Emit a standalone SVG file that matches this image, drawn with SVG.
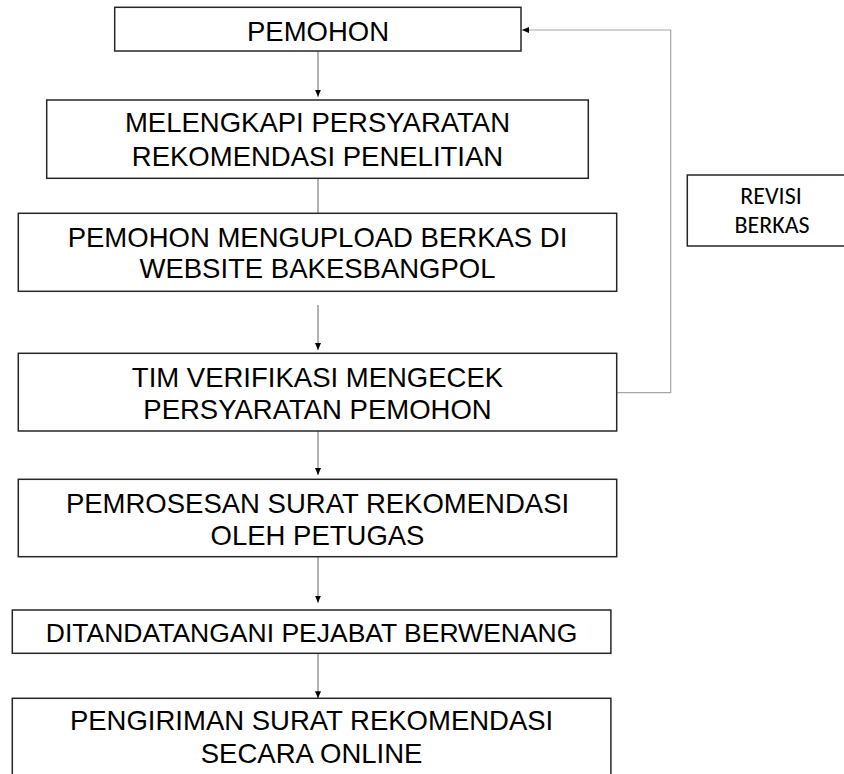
<svg xmlns="http://www.w3.org/2000/svg" width="844" height="774" viewBox="0 0 844 774">
<defs>
<style>
.box{fill:#ffffff;stroke:#262626;stroke-width:1.5}
.t{font-family:"Liberation Sans",Arial,sans-serif;font-size:27.5px;fill:#000;text-anchor:middle}
.t2{font-family:Carlito,Lato,"Open Sans",sans-serif;font-size:24px;fill:#000;text-anchor:middle}
.c{fill:none;stroke:#808080;stroke-width:1.2}
.fb{fill:none;stroke:#a6a6a6;stroke-width:1.2}
</style>
<marker id="ah" markerUnits="userSpaceOnUse" markerWidth="8" markerHeight="7" refX="7" refY="3" orient="auto">
<path d="M0,0 L7,3 L0,6 z" fill="#000"/>
</marker>
</defs>
<rect width="844" height="774" fill="#ffffff"/>
<g id="connectors">
<line class="c" x1="318" y1="51" x2="318" y2="96.7" marker-end="url(#ah)"/>
<line class="c" x1="318" y1="178.3" x2="318" y2="213.3"/>
<line class="c" x1="318" y1="305" x2="318" y2="350" marker-end="url(#ah)"/>
<line class="c" x1="318" y1="431" x2="318" y2="475" marker-end="url(#ah)"/>
<line class="c" x1="318" y1="556.7" x2="318" y2="602.7" marker-end="url(#ah)"/>
<line class="c" x1="318" y1="653.3" x2="318" y2="698.3" marker-end="url(#ah)"/>
<polyline class="fb" points="616.7,392.7 670.7,392.7 670.7,30 522,30" marker-end="url(#ah)"/>
</g>
<g id="n1">
<rect class="box" x="114.7" y="7.3" width="406.3" height="43.7"/>
<text class="t" x="318" y="40.5">PEMOHON</text>
</g>
<g id="n2">
<rect class="box" x="46.7" y="100" width="541.6" height="78.3"/>
<text class="t" x="317.5" y="131.7">MELENGKAPI PERSYARATAN</text>
<text class="t" x="317.5" y="165.7">REKOMENDASI PENELITIAN</text>
</g>
<g id="n3">
<rect class="box" x="18.3" y="213.3" width="598.4" height="78"/>
<text class="t" x="317.5" y="246.7">PEMOHON MENGUPLOAD BERKAS DI</text>
<text class="t" x="317.5" y="278.3">WEBSITE BAKESBANGPOL</text>
</g>
<g id="n4">
<rect class="box" x="18.3" y="353.3" width="598.4" height="77.7"/>
<text class="t" x="317.5" y="386.7">TIM VERIFIKASI MENGECEK</text>
<text class="t" x="317.5" y="419">PERSYARATAN PEMOHON</text>
</g>
<g id="n5">
<rect class="box" x="18.3" y="479.3" width="598.4" height="77.4"/>
<text class="t" x="317.5" y="513">PEMROSESAN SURAT REKOMENDASI</text>
<text class="t" x="317.5" y="545">OLEH PETUGAS</text>
</g>
<g id="n6">
<rect class="box" x="12.3" y="610" width="598.6" height="43.3"/>
<text class="t" x="311.6" y="641.7" style="font-size:26.5px">DITANDATANGANI PEJABAT BERWENANG</text>
</g>
<g id="n7">
<rect class="box" x="12.3" y="698.3" width="598.6" height="90"/>
<text class="t" x="311.6" y="730">PENGIRIMAN SURAT REKOMENDASI</text>
<text class="t" x="311.6" y="763.3">SECARA ONLINE</text>
</g>
<g id="n8">
<rect class="box" x="687.3" y="175" width="170" height="71"/>
<text class="t2" x="771" y="204.3">REVISI</text>
<text class="t2" x="772" y="233.3">BERKAS</text>
</g>
</svg>
